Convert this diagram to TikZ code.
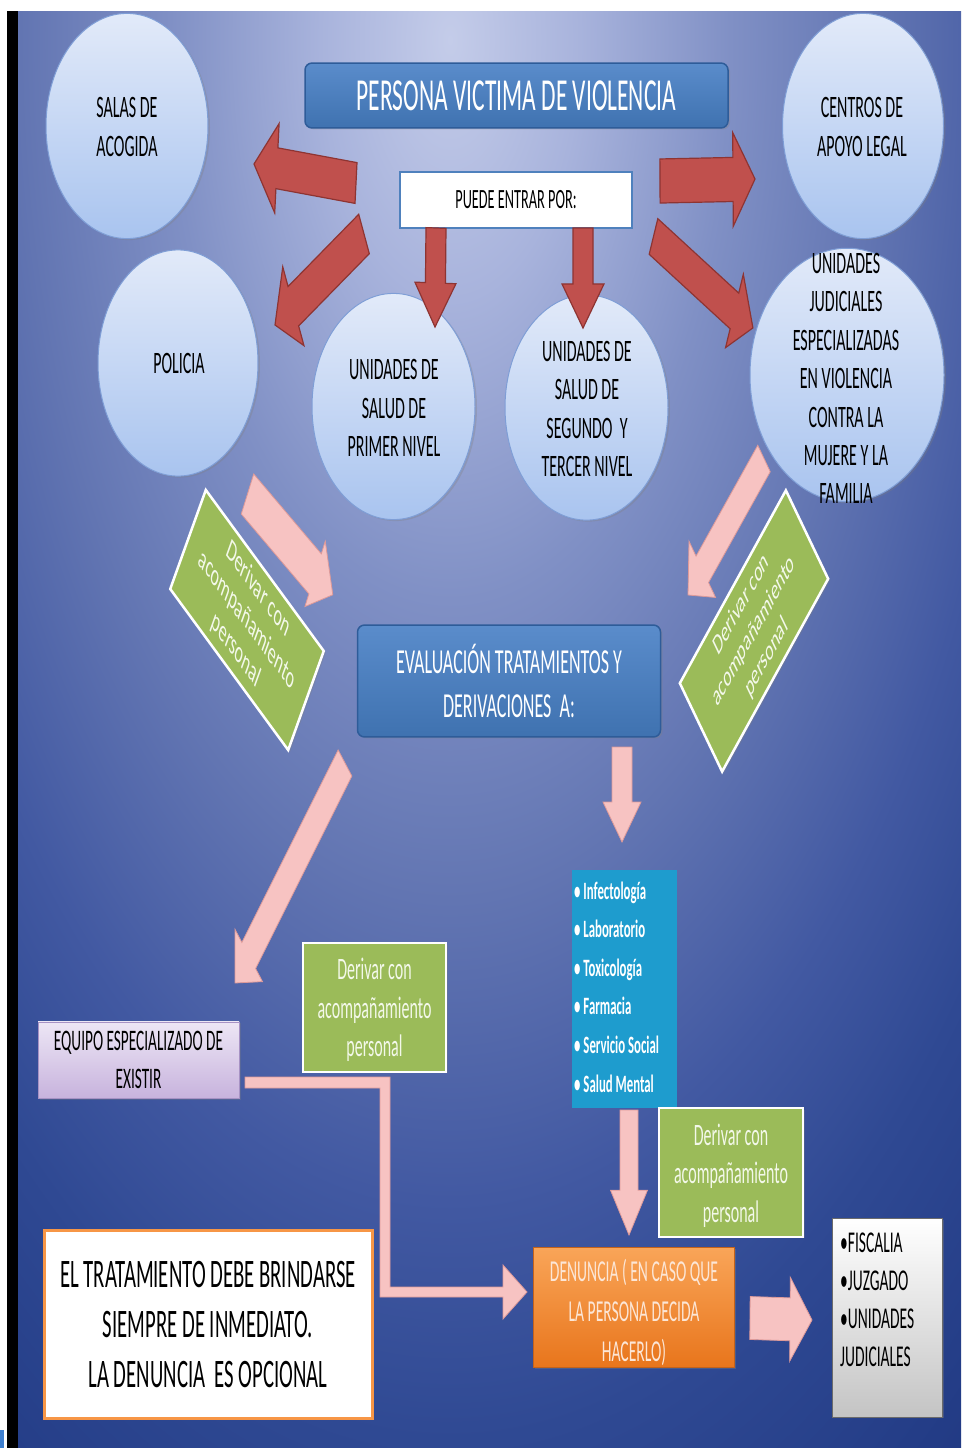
\documentclass[tikz,border=0pt]{standalone}
\usepackage{fontspec}
\setmainfont{Carlito}
\usetikzlibrary{shapes.geometric,shadows}
\definecolor{bgA}{HTML}{C4CCE9}
\definecolor{bgB}{HTML}{A8B3DC}
\definecolor{bgC}{HTML}{8090C5}
\definecolor{bgD}{HTML}{6275B2}
\definecolor{bgE}{HTML}{4259A2}
\definecolor{bgF}{HTML}{2F4993}
\definecolor{bgG}{HTML}{233C86}
\definecolor{bgI}{HTML}{1C3275}
\definecolor{circT}{HTML}{E2EAF9}
\definecolor{circBt}{HTML}{A9C4EF}
\definecolor{circD}{HTML}{7F9ED6}
\definecolor{blueT}{HTML}{5A8CCB}
\definecolor{blueB}{HTML}{3F72B0}
\definecolor{blueD}{HTML}{2E5C99}
\definecolor{blueM}{HTML}{4F81BD}
\definecolor{listF}{HTML}{1E9CCE}
\definecolor{greenF}{HTML}{9BBB59}
\definecolor{gtextC}{HTML}{F3F8E9}
\definecolor{lavT}{HTML}{EDE6F5}
\definecolor{lavB}{HTML}{C7B3DD}
\definecolor{lavD}{HTML}{A792C4}
\definecolor{orangeB}{HTML}{F79646}
\definecolor{orT}{HTML}{F9A558}
\definecolor{orB}{HTML}{E8751C}
\definecolor{orangeD}{HTML}{C4621A}
\definecolor{denT}{HTML}{FCE6D6}
\definecolor{greyB}{HTML}{C4C4C4}
\definecolor{greyD}{HTML}{6B6B6B}
\definecolor{redF}{HTML}{C0504D}
\definecolor{redD}{HTML}{8E3432}
\definecolor{pinkF}{HTML}{F7C3C2}
\definecolor{pinkD}{HTML}{DE9A99}
\definecolor{stub}{HTML}{3F80D0}
\pgfdeclareradialshading{bgshade}{\pgfpoint{0bp}{0bp}}{color(0bp)=(bgA); color(3.25bp)=(bgB); color(7bp)=(bgC); color(10.75bp)=(bgD); color(14.5bp)=(bgE); color(17.5bp)=(bgF); color(21.25bp)=(bgG); color(25bp)=(bgI); color(50bp)=(bgI)}
% block arrow: style, x1, y1, x2, y2 (image coords), shaft half width, head half width, head length
\newcommand\blkarrow[8]{%
  \pgfmathsetmacro\bkdx{#4-(#2)}%
  \pgfmathsetmacro\bkdy{((#3)-(#5))/1.95}%
  \pgfmathsetmacro\bkang{atan2(\bkdy,\bkdx)}%
  \pgfmathsetmacro\bklen{veclen(\bkdx,\bkdy)}%
  \pgfmathsetmacro\bkbase{\bklen-#8}%
  \begin{scope}[shift={(#2,#3)},yscale=1.95,rotate=\bkang]
    \path[#1] (0,#6) -- (\bkbase,#6) -- (\bkbase,#7) -- (\bklen,0) -- (\bkbase,-#7) -- (\bkbase,-#6) -- (0,-#6) -- cycle;
  \end{scope}}
\begin{document}
\begin{tikzpicture}[x=1pt,y=-1pt,
  tall/.style={yscale=1.95},
  circ/.style={ellipse, draw=circD, line width=1pt, top color=circT, bottom color=circBt, inner sep=0pt, tall,
     drop shadow={opacity=0.3,shadow xshift=2pt,shadow yshift=-1.5pt}},
  ctext/.style={tall, align=center, inner sep=0pt, font=\fontsize{16}{19.7}\selectfont, text=black},
  bluebox/.style={rectangle, rounded corners=7pt, draw=blueD, line width=1.5pt, top color=blueT, bottom color=blueB,
     inner sep=0pt, tall, text=white, drop shadow={opacity=0.3,shadow xshift=2pt,shadow yshift=-1.5pt}},
  gbox/.style={rectangle, draw=white, line width=2.5pt, fill=greenF, inner sep=0pt, tall,
     drop shadow={opacity=0.3,shadow xshift=2pt,shadow yshift=-1.5pt}},
  gtext/.style={tall, align=center, inner sep=0pt, text=gtextC, font=\fontsize{16}{19.7}\selectfont},
  redarrow/.style={fill=redF, draw=redD, line width=1.2pt},
  pinkarrow/.style={fill=pinkF, draw=pinkD, line width=0.8pt},
]
\useasboundingbox (0,0) rectangle (961,1448);
% background
\fill[white] (0,0) rectangle (961,1448);
\fill[black] (7,11) rectangle (18,1448);
\begin{scope}
  \clip (18,11) rectangle (961,1448);
  \fill[bgI] (18,11) rectangle (961,1448);
  \shade[shading=bgshade] (450,40) ellipse [x radius=1000, y radius=2000];
\end{scope}
\fill[stub] (0,1430) rectangle (4,1448);

% circles
\node[circ, minimum width=162pt, minimum height=115.5pt] (salas) at (127,126) {};
\node[ctext] (salasT) at (127,127) {SALAS DE\\ACOGIDA};
\node[circ, minimum width=161pt, minimum height=115.5pt] (centros) at (863,126) {};
\node[ctext] (centrosT) at (862,127) {CENTROS DE\\APOYO LEGAL};
\node[circ, minimum width=160pt, minimum height=116pt] (policia) at (178,363) {};
\node[ctext] (policiaT) at (179,363) {POLICIA};
\node[circ, minimum width=163pt, minimum height=116pt] (primer) at (393.5,406.5) {};
\node[ctext] (primerT) at (394,408) {UNIDADES DE\\SALUD DE\\PRIMER NIVEL};
\node[circ, minimum width=163pt, minimum height=115.5pt] (segundo) at (586.5,407.5) {};
\node[ctext] (segundoT) at (587,409) {UNIDADES DE\\SALUD DE\\SEGUNDO\ \ Y\\TERCER NIVEL};
\node[circ, minimum width=194pt, minimum height=130pt] (judic) at (847,375) {};
\node[ctext] (judicT) at (846,378.5) {UNIDADES\\JUDICIALES\\ESPECIALIZADAS\\EN VIOLENCIA\\CONTRA LA\\MUJERE Y LA\\FAMILIA};

% top boxes
\node[bluebox, minimum width=423pt, minimum height=33.3pt, font=\fontsize{23.5}{28}\selectfont] (title) at (516.5,95.5) {PERSONA VICTIMA DE VIOLENCIA};
\node[rectangle, draw=blueM, line width=2.5pt, fill=white, inner sep=0pt, tall, minimum width=232pt, minimum height=28.7pt,
      font=\fontsize{14.3}{17}\selectfont] (puede) at (516,200) {PUEDE ENTRAR POR:};

% red arrows
\blkarrow{redarrow}{356}{183}{254}{164}{10.5}{23}{23}
\blkarrow{redarrow}{660}{181}{755}{179}{11.3}{24}{22}
\blkarrow{redarrow}{364}{234}{275}{325}{11.4}{22.8}{20.7}
\blkarrow{redarrow}{436}{228}{435}{327}{10}{20.5}{22.6}
\blkarrow{redarrow}{583}{228}{583}{328}{10}{21}{22.6}
\blkarrow{redarrow}{653.5}{236.5}{753}{328}{10.1}{20.8}{20.4}

% rotated green boxes
\node[gbox, rotate=-35, minimum width=144pt, minimum height=62pt] (gL) at (247,620) {};
\node[gtext, rotate=-35, font=\fontsize{16}{19}\selectfont] (gLT) at (247,620) {Derivar con\\acompañamiento\\personal};
\node[gbox, rotate=43, minimum width=145pt, minimum height=62pt] (gR) at (754,631) {};
\node[gtext, rotate=43, font=\fontsize{15}{18.5}\selectfont] (gRT) at (754,631) {Derivar con\\acompañamiento\\personal};

% pink arrows
\blkarrow{pinkarrow}{247.5}{494}{333}{595}{12}{19.6}{20.7}
\blkarrow{pinkarrow}{764}{458.5}{688}{595}{9.2}{19.6}{19.4}
\blkarrow{pinkarrow}{345}{763}{235}{983}{9.6}{19.2}{19.7}
\blkarrow{pinkarrow}{622}{747}{622}{842}{10}{19}{20.5}
\blkarrow{pinkarrow}{629}{1110}{629}{1235}{9}{18.5}{23}
\blkarrow{pinkarrow}{750}{1318}{812}{1320}{11}{21.5}{22}

% evaluation box
\node[bluebox, minimum width=303pt, minimum height=57.4pt, align=center, font=\fontsize{18}{22.5}\selectfont] (eval) at (509,681)
  {EVALUACIÓN TRATAMIENTOS Y\\DERIVACIONES\ \ A:};

% list box
\node[rectangle, fill=listF, inner sep=0pt, tall, minimum width=105pt, minimum height=122pt] (lista) at (624.5,989) {};
\node[tall, anchor=west, align=left, inner sep=0pt, text=white, font=\bfseries\fontsize{12.8}{19.8}\selectfont] (listaT) at (574,987)
  {• Infectología\\• Laboratorio\\• Toxicología\\• Farmacia\\• Servicio Social\\• Salud Mental};

% green boxes
\node[gbox, minimum width=143pt, minimum height=66pt] (g1) at (374.5,1007.5) {};
\node[gtext] (g1T) at (374.5,1010) {Derivar con\\acompañamiento\\personal};
\node[gbox, minimum width=144pt, minimum height=66pt] (g2) at (731,1172.5) {};
\node[gtext] (g2T) at (731,1175.5) {Derivar con\\acompañamiento\\personal};

% equipo box
\node[rectangle, draw=lavD, line width=0.8pt, top color=lavT, bottom color=lavB, inner sep=0pt, tall, minimum width=201pt, minimum height=39pt,
      align=center, font=\fontsize{15.3}{19.5}\selectfont, drop shadow={opacity=0.3,shadow xshift=2pt,shadow yshift=-1.5pt}] (equipo) at (138.5,1060)
  {EQUIPO ESPECIALIZADO DE\\EXISTIR};

% bent pink arrow
\path[pinkarrow] (245,1077) -- (390,1077) -- (390,1287) -- (503,1287) -- (503,1265) -- (527,1292) -- (503,1319) -- (503,1297)
  -- (380,1297) -- (380,1088) -- (245,1088) -- cycle;

% treatment note
\node[rectangle, draw=orangeB, line width=3pt, fill=white, inner sep=0pt, tall, minimum width=328pt, minimum height=96pt,
      align=center, font=\fontsize{20.75}{25.6}\selectfont, drop shadow={opacity=0.35,shadow xshift=2pt,shadow yshift=-1.5pt}] (trat) at (208,1324.5)
  {EL TRATAMIENTO DEBE BRINDARSE\\SIEMPRE DE INMEDIATO.\\LA DENUNCIA\ \ ES OPCIONAL};

% denuncia
\node[rectangle, draw=orangeD, line width=1pt, top color=orT, bottom color=orB, inner sep=0pt, tall, minimum width=201pt, minimum height=62pt,
      drop shadow={opacity=0.35,shadow xshift=2pt,shadow yshift=-1.5pt}] (denuncia) at (633.5,1307.5) {};
\node[tall, align=center, inner sep=0pt, text=denT, font=\fontsize{15.6}{20.3}\selectfont] (denunciaT) at (634,1312.5)
  {DENUNCIA ( EN CASO QUE\\LA PERSONA DECIDA\\HACERLO)};

% fiscalia
\node[rectangle, draw=greyD, line width=0.8pt, top color=white, bottom color=greyB, inner sep=0pt, tall, minimum width=110pt, minimum height=102pt,
      drop shadow={opacity=0.35,shadow xshift=2pt,shadow yshift=-1.5pt}] (fisc) at (887,1317.5) {};
\node[tall, anchor=west, align=left, inner sep=0pt, font=\fontsize{15.5}{19.5}\selectfont] (fiscT) at (840,1299.5)
  {•FISCALIA\\•JUZGADO\\•UNIDADES\\JUDICIALES};
\end{tikzpicture}
\end{document}
